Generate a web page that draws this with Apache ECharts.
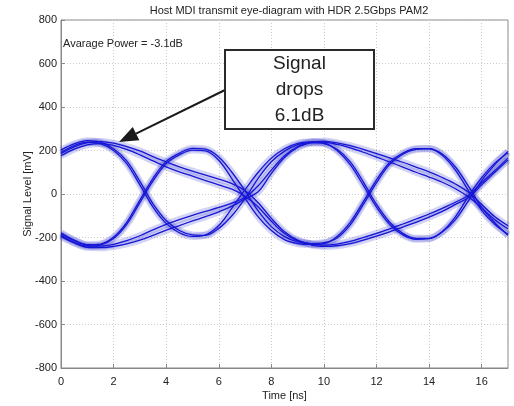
<!DOCTYPE html>
<html>
<head>
<meta charset="utf-8">
<script src="https://cdn.jsdelivr.net/npm/echarts@6/dist/echarts.min.js"></script>
<style>html,body{margin:0;padding:0;background:#fff;}#c{width:514px;height:406px;}</style>
</head>
<body>
<div id="c"></div>
<script>
var titleText = 'Host MDI transmit eye-diagram with HDR 2.5Gbps PAM2';
var xName = 'Time [ns]';
var yName = 'Signal Level [mV]';
var powerText = 'Avarage Power = -3.1dB';
var noteLines = ['Signal', 'drops', '6.1dB'];

// time grids (ns)
var T1 = [0,0.5,1,1.5,2,2.5,3,3.5,4,4.5,5,5.5,6,6.5,7,7.5,8,8.5,9,9.5];
var T2 = [9.5,10,10.5,11,11.5,12,12.5,13,13.5,14,14.5,15,15.5,16,16.5,17];

// first half traces (mV)
var fastFallA1 = [190,222,238,232,200,140,42,-60,-135,-178,-195,-188,-145,-65,20,100,165,208,233,240];
var fastFallA2 = [202,230,245,238,208,152,58,-45,-122,-168,-188,-190,-158,-100,-20,72,148,197,227,238];
var fastRiseA1 = [-190,-222,-240,-235,-205,-140,-40,60,140,180,202,198,155,70,-20,-105,-168,-210,-228,-232];
var fastRiseA2 = [-178,-212,-233,-230,-198,-130,-28,72,150,188,210,206,170,100,15,-78,-150,-196,-220,-230];
var slowFallA1 = [186,216,236,241,234,218,198,172,148,125,105,87,68,48,15,-40,-112,-174,-212,-230];
var slowFallA2 = [176,206,226,232,224,205,180,152,125,102,82,62,42,22,-10,-60,-125,-182,-216,-228];
var slowRiseA1 = [-184,-214,-236,-240,-232,-214,-192,-165,-140,-118,-98,-80,-62,-42,-15,38,110,176,218,238];
var slowRiseA2 = [-196,-225,-245,-247,-241,-229,-212,-190,-166,-145,-124,-104,-82,-56,-22,10,95,168,214,235];

// second half traces (mV)
var fastFallC1 = [240,235,200,135,40,-60,-140,-188,-208,-205,-172,-105,-10,75,142,190];
var fastFallC2 = [236,232,206,148,55,-48,-130,-181,-204,-204,-175,-118,-30,62,135,196];
var fastRiseC1 = [-232,-228,-195,-130,-35,65,145,188,208,208,178,110,15,-75,-140,-185];
var fastRiseC2 = [-228,-224,-202,-142,-48,52,136,183,205,209,184,124,35,-62,-132,-190];
var slowFallC1 = [240,242,235,222,205,186,166,146,124,102,76,46,8,-48,-105,-146];
var slowFallC2 = [235,237,228,212,192,170,147,124,100,78,54,24,-14,-64,-118,-160];
var slowRiseC1 = [-230,-235,-230,-218,-200,-181,-160,-138,-115,-92,-66,-38,-6,52,108,166];
var slowRiseC2 = [-235,-241,-238,-228,-212,-194,-174,-152,-130,-106,-80,-48,-16,42,100,156];

var firstHalf = [fastFallA1, fastFallA2, fastRiseA1, fastRiseA2, slowFallA1, slowFallA2, slowRiseA1, slowRiseA2];
var secondHalf = [fastFallC1, fastFallC2, fastRiseC1, fastRiseC2, slowFallC1, slowFallC2, slowRiseC1, slowRiseC2];

function pairs(T, Y) { return T.map(function (t, i) { return [t, Y[i]]; }); }

var series = [];
function addTrace(T, Y) {
  var d = pairs(T, Y);
  series.push({ type: 'line', data: d, smooth: 0.35, symbol: 'none', silent: true,
    lineStyle: { width: 7, color: 'rgba(80,80,210,0.25)' }, z: 2 });
  series.push({ type: 'line', data: d, smooth: 0.35, symbol: 'none', silent: true,
    lineStyle: { width: 1.3, color: '#1616d6' }, z: 3 });
}
firstHalf.forEach(function (y) { addTrace(T1, y); });
secondHalf.forEach(function (y) { addTrace(T2, y); });

var FONT = '"Liberation Sans", Arial, sans-serif';
var chart = echarts.init(document.getElementById('c'), null, { renderer: 'canvas' });

// arrow geometry
var tip = [119, 142], tail = [225, 90];
var dx = tail[0] - tip[0], dy = tail[1] - tip[1];
var L = Math.sqrt(dx * dx + dy * dy), ux = dx / L, uy = dy / L;
var hl = 19, hw = 7.5;
var bx = tip[0] + ux * hl, by = tip[1] + uy * hl;

chart.setOption({
  animation: false,
  backgroundColor: '#fff',
  title: { text: titleText, left: 284, textAlign: 'center', top: 0,
    textStyle: { fontSize: 11, fontWeight: 'normal', color: '#222', fontFamily: FONT } },
  grid: { left: 61, right: 6, top: 20, bottom: 32, show: true, borderColor: '#888', borderWidth: 1 },
  xAxis: {
    type: 'value', min: 0, max: 17, interval: 2,
    name: xName, nameLocation: 'middle', nameGap: 22, nameMoveOverlap: false,
    nameTextStyle: { fontSize: 11, color: '#222', fontFamily: FONT },
    axisLine: { show: true, onZero: false, lineStyle: { color: '#888' } },
    axisTick: { show: true, inside: true, length: 4, lineStyle: { color: '#888' } },
    axisLabel: { fontSize: 11, color: '#222', fontFamily: FONT, margin: 8, showMaxLabel: false },
    splitLine: { show: true, lineStyle: { color: '#cccccc', type: [1, 2], width: 1 } }
  },
  yAxis: {
    type: 'value', min: -800, max: 800, interval: 200,
    name: yName, nameLocation: 'middle', nameGap: 28, nameMoveOverlap: false,
    nameTextStyle: { fontSize: 11, color: '#222', fontFamily: FONT },
    axisLine: { show: true, onZero: false, lineStyle: { color: '#888' } },
    axisTick: { show: true, inside: true, length: 4, lineStyle: { color: '#888' } },
    axisLabel: { fontSize: 11, color: '#222', fontFamily: FONT, margin: 4 },
    splitLine: { show: true, lineStyle: { color: '#cccccc', type: [1, 2], width: 1 } }
  },
  series: series,
  graphic: [
    { type: 'text', left: 63, top: 38, z: 10,
      style: { text: powerText, fontSize: 11, fill: '#222', fontFamily: FONT } },
    { type: 'line', z: 10, shape: { x1: tail[0], y1: tail[1], x2: bx, y2: by },
      style: { stroke: '#1a1a1a', lineWidth: 2 } },
    { type: 'polygon', z: 10, shape: { points: [tip, [bx + uy * hw, by - ux * hw], [bx - uy * hw, by + ux * hw]] },
      style: { fill: '#1a1a1a' } },
    { type: 'rect', z: 10, shape: { x: 225, y: 50, width: 149, height: 79 },
      style: { fill: '#fff', stroke: '#2a2a2a', lineWidth: 2 } },
    { type: 'text', z: 11, x: 299.5, y: 89.5,
      style: { text: noteLines.join('\n'), fontSize: 19, lineHeight: 26, fill: '#222',
        fontFamily: FONT, align: 'center', verticalAlign: 'middle' } }
  ]
});
</script>
</body>
</html>
